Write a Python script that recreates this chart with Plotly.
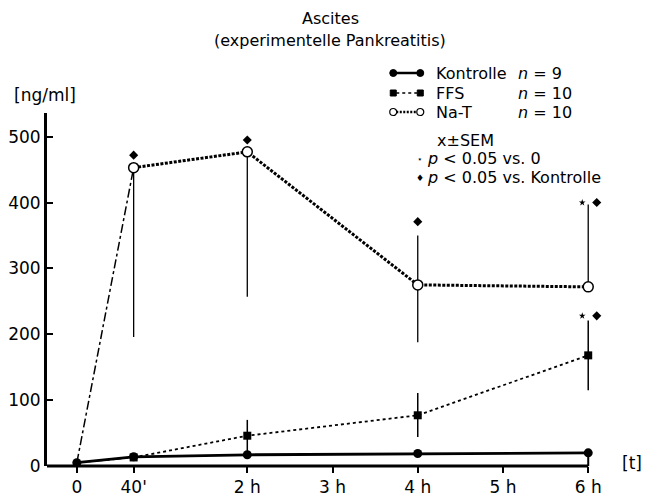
import plotly.graph_objects as go

# ---- data (time in hours) ----
time_h = [0, 40/60, 2, 4, 6]
tick_vals = [0, 40/60, 2, 3, 4, 5, 6]
tick_text = ["0", "40'", "2 h", "3 h", "4 h", "5 h", "6 h"]
y_ticks = [0, 100, 200, 300, 400, 500]

kontrolle = [5, 14, 17, 19, 20]
ffs = [5, 13, 46, 77, 168]
ffs_err_plus = [0, 0, 24, 34, 53]
ffs_err_minus = [0, 0, 29, 33, 53]
nat = [5, 453, 477, 275, 272]
nat_err_plus = [0, 0, 0, 75, 125]
nat_err_minus = [0, 257, 220, 87, 0]

# significance marks (p<0.05 vs Kontrolle: diamonds; vs 0: small stars)
diam_x = [40/60, 2, 4, 6.1, 6.1]
diam_y = [472, 495, 371, 400, 228]
star_x = [5.93, 5.93]
star_y = [400, 228]

series_names = ["Kontrolle", "FFS", "Na-T"]
series_n = ["9", "10", "10"]

FONT = "DejaVu Sans, sans-serif"
W, H = 659, 502
X_MIN, X_END, X_MAX = -0.35, 6.0, 6.15
L, T, B = 47, 113, 36
PX_PER_H = (588 - 77) / 6.0
PW = PX_PER_H * (X_MAX - X_MIN)
R = W - L - PW
PH = H - T - B


def px(xp):
    return (xp - L) / PW


def py(yp):
    return (H - B - yp) / PH


fig = go.Figure()

# first segments (dash-dot)
fig.add_trace(go.Scatter(x=time_h[:2], y=nat[:2], mode="lines",
                         line=dict(color="black", width=1.5, dash="dashdot"),
                         showlegend=False, hoverinfo="skip", cliponaxis=False))
fig.add_trace(go.Scatter(x=time_h[:2], y=ffs[:2], mode="lines",
                         line=dict(color="black", width=1.5, dash="dashdot"),
                         showlegend=False, hoverinfo="skip", cliponaxis=False))

fig.add_trace(go.Scatter(
    x=time_h, y=kontrolle, mode="lines+markers", name=series_names[0],
    line=dict(color="black", width=2.8),
    marker=dict(symbol="circle", size=9, color="black"), cliponaxis=False))

fig.add_trace(go.Scatter(
    x=time_h[1:], y=ffs[1:], mode="lines+markers", name=series_names[1],
    line=dict(color="black", width=1.8, dash="dot"),
    marker=dict(symbol="square", size=8, color="black"),
    error_y=dict(type="data", array=ffs_err_plus[1:], arrayminus=ffs_err_minus[1:],
                 symmetric=False, width=0, thickness=1.5, color="black"),
    cliponaxis=False))

fig.add_trace(go.Scatter(
    x=time_h[1:], y=nat[1:], mode="lines+markers", name=series_names[2],
    line=dict(color="black", width=3, dash="3px,1.5px"),
    marker=dict(symbol="circle", size=10, color="white", line=dict(color="black", width=1.5)),
    error_y=dict(type="data", array=nat_err_plus[1:], arrayminus=nat_err_minus[1:],
                 symmetric=False, width=0, thickness=1.3, color="black"),
    cliponaxis=False))

fig.add_trace(go.Scatter(x=diam_x, y=diam_y, mode="markers", showlegend=False,
                         marker=dict(symbol="diamond", size=7, color="black"),
                         cliponaxis=False, hoverinfo="skip"))
fig.add_trace(go.Scatter(x=star_x, y=star_y, mode="markers", showlegend=False,
                         marker=dict(symbol="star", size=5, color="black"),
                         cliponaxis=False, hoverinfo="skip"))

shapes = []
# x axis baseline ending at 6 h with a small upward end tick
shapes.append(dict(type="line", xref="x", yref="paper", x0=X_MIN, x1=X_END, y0=0, y1=0,
                   line=dict(color="black", width=3)))
shapes.append(dict(type="line", xref="x", yref="paper", x0=X_END, x1=X_END, y0=0, y1=py(457),
                   line=dict(color="black", width=2)))

# ---- manual legend ----
row_y = [73, 93, 112]
key_x0, key_x1 = 393, 420
line_styles = [dict(color="black", width=2.5),
               dict(color="black", width=1.5, dash="dot"),
               dict(color="black", width=2.5, dash="2px,1.5px")]
for i, ry in enumerate(row_y):
    shapes.append(dict(type="line", xref="paper", yref="paper",
                       x0=px(key_x0 + 3), x1=px(key_x1 - 3), y0=py(ry), y1=py(ry),
                       line=line_styles[i]))
    for kx in (key_x0, key_x1):
        common = dict(xref="paper", yref="paper", xsizemode="pixel", ysizemode="pixel",
                      xanchor=px(kx), yanchor=py(ry))
        if i == 0:
            shapes.append(dict(type="circle", x0=-3.5, x1=3.5, y0=-3.5, y1=3.5,
                               fillcolor="black", line=dict(color="black", width=1), **common))
        elif i == 1:
            shapes.append(dict(type="rect", x0=-3, x1=3, y0=-3, y1=3,
                               fillcolor="black", line=dict(color="black", width=1), **common))
        else:
            shapes.append(dict(type="circle", x0=-3.5, x1=3.5, y0=-3.5, y1=3.5,
                               fillcolor="white", line=dict(color="black", width=1.2), **common))

annots = []
for i, ry in enumerate(row_y):
    annots.append(dict(text=series_names[i], x=px(434), y=py(ry)))
    annots.append(dict(text="<i>n</i> = " + series_n[i], x=px(516), y=py(ry)))
annots += [
    dict(text="x±SEM", x=px(435), y=py(140)),
    dict(text="<span style='font-size:9px'>⋆</span>", x=px(415), y=py(159)),
    dict(text="<i>p</i> &lt; 0.05 vs. 0", x=px(425), y=py(158)),
    dict(text="<span style='font-size:9px'>♦</span>", x=px(414), y=py(178)),
    dict(text="<i>p</i> &lt; 0.05 vs. Kontrolle", x=px(425), y=py(177)),
]
for a in annots:
    fig.add_annotation(xref="paper", yref="paper", xanchor="left", yanchor="middle",
                       showarrow=False, font=dict(size=16, color="black", family=FONT), **a)

# title lines
fig.add_annotation(xref="paper", yref="paper", x=px(330), y=py(18), text="Ascites",
                   showarrow=False, xanchor="center", yanchor="middle",
                   font=dict(size=16, family=FONT, color="black"))
fig.add_annotation(xref="paper", yref="paper", x=px(330), y=py(41),
                   text="(experimentelle Pankreatitis)",
                   showarrow=False, xanchor="center", yanchor="middle",
                   font=dict(size=16, family=FONT, color="black"))

# axis unit labels
fig.add_annotation(xref="paper", yref="paper", x=px(632), y=py(463), text="[t]", showarrow=False,
                   xanchor="center", yanchor="middle", font=dict(size=17, family=FONT, color="black"))
fig.add_annotation(xref="paper", yref="paper", x=px(45), y=py(95), text="[ng/ml]", showarrow=False,
                   xanchor="center", yanchor="middle", font=dict(size=17, family=FONT, color="black"))

fig.update_layout(
    width=W, height=H,
    paper_bgcolor="white", plot_bgcolor="white",
    margin=dict(l=L, r=R, t=T, b=B, autoexpand=False),
    font=dict(family=FONT, size=17, color="black"),
    showlegend=False,
    shapes=shapes,
    xaxis=dict(range=[X_MIN, X_MAX], tickvals=tick_vals, ticktext=tick_text, automargin=False,
               showgrid=False, zeroline=False, showline=False,
               ticks="outside", ticklen=6, tickwidth=2, tickcolor="black",
               tickfont=dict(size=17)),
    yaxis=dict(range=[0, 536], tickvals=y_ticks, showgrid=False, zeroline=False, automargin=False,
               showline=True, linecolor="black", linewidth=3,
               ticks="inside", ticklen=6, tickwidth=2, tickcolor="black",
               tickfont=dict(size=17)),
)

fig.write_html("out.html", config={"displayModeBar": False},
               post_script="document.body.style.margin='0px';")
